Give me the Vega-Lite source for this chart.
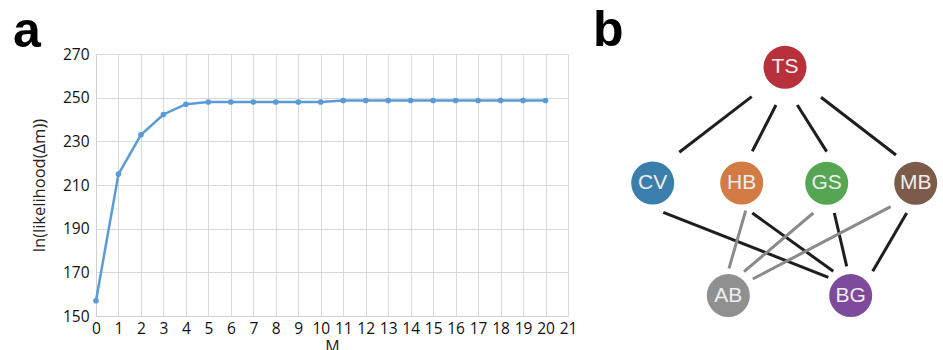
{
  "$schema": "https://vega.github.io/schema/vega-lite/v6.json",
  "background": "white",
  "padding": {"left": 13, "top": 5, "right": 0, "bottom": 0},
  "spacing": 16,
  "config": {
    "view": {"stroke": null},
    "font": "Open Sans",
    "axis": {"labelFont": "Open Sans", "titleFont": "Open Sans", "labelColor": "#111111", "titleColor": "#222222"}
  },
  "hconcat": [
    {
      "width": 472,
      "height": 262,
      "title": {"text": "a", "anchor": "start", "frame": "group", "font": "Liberation Sans", "fontSize": 50, "fontWeight": "bold", "color": "#000000", "dx": -83, "offset": -10},
      "data": {"values": [
        {"M": 0, "L": 157}, {"M": 1, "L": 215}, {"M": 2, "L": 233}, {"M": 3, "L": 242.3},
        {"M": 4, "L": 247}, {"M": 5, "L": 248}, {"M": 6, "L": 248}, {"M": 7, "L": 248},
        {"M": 8, "L": 248}, {"M": 9, "L": 248}, {"M": 10, "L": 248}, {"M": 11, "L": 248.7},
        {"M": 12, "L": 248.7}, {"M": 13, "L": 248.7}, {"M": 14, "L": 248.7}, {"M": 15, "L": 248.7},
        {"M": 16, "L": 248.7}, {"M": 17, "L": 248.7}, {"M": 18, "L": 248.7}, {"M": 19, "L": 248.7},
        {"M": 20, "L": 248.7}
      ]},
      "mark": {"type": "line", "color": "#5b9bd5", "strokeWidth": 2.5, "point": {"filled": true, "size": 32, "color": "#5b9bd5", "opacity": 1}},
      "encoding": {
        "x": {"field": "M", "type": "quantitative", "scale": {"domain": [0, 21], "nice": false},
          "axis": {"values": [0,1,2,3,4,5,6,7,8,9,10,11,12,13,14,15,16,17,18,19,20,21], "grid": true, "gridColor": "#d9d9d9", "gridWidth": 1, "domainColor": "#d0d0d0", "ticks": false, "labelFontSize": 15.5, "labelPadding": 5, "labelFlush": false, "title": "M", "titleFontSize": 16, "titleFontWeight": "normal", "titlePadding": 2}},
        "y": {"field": "L", "type": "quantitative", "scale": {"domain": [150, 270], "nice": false, "zero": false},
          "axis": {"values": [150,170,190,210,230,250,270], "grid": true, "gridColor": "#d9d9d9", "gridWidth": 1, "domainColor": "#d0d0d0", "ticks": false, "labelFontSize": 15.5, "labelPadding": 7, "labelFlush": false, "title": "ln(likelihood(Δm))", "titleFontSize": 16.5, "titleFontWeight": "normal", "titlePadding": 15}}
      }
    },
    {
      "width": 348,
      "height": 262,
      "title": {"text": "b", "anchor": "start", "frame": "group", "font": "Liberation Sans", "fontSize": 50, "fontWeight": "bold", "color": "#000000", "dx": -2, "offset": -10},
      "layer": [
        {
          "data": {"values": [
            {"from": "TS", "to": "CV", "kind": "black", "x1": 84.3, "y1": 98.3, "x2": 156.7, "y2": 42.6},
            {"from": "TS", "to": "HB", "kind": "black", "x1": 157.3, "y1": 97.3, "x2": 181, "y2": 51},
            {"from": "TS", "to": "GS", "kind": "black", "x1": 202.3, "y1": 51, "x2": 231.7, "y2": 97.6},
            {"from": "TS", "to": "MB", "kind": "black", "x1": 226, "y1": 43.3, "x2": 301, "y2": 101},
            {"from": "CV", "to": "BG", "kind": "black", "x1": 68.3, "y1": 158.3, "x2": 233.3, "y2": 223.3},
            {"from": "HB", "to": "AB", "kind": "gray", "x1": 150.7, "y1": 156.6, "x2": 134, "y2": 214.3},
            {"from": "HB", "to": "BG", "kind": "black", "x1": 157.3, "y1": 159, "x2": 238.3, "y2": 217.3},
            {"from": "GS", "to": "AB", "kind": "gray", "x1": 218.3, "y1": 159, "x2": 149, "y2": 217.6},
            {"from": "GS", "to": "BG", "kind": "black", "x1": 239.3, "y1": 159, "x2": 251.7, "y2": 212.3},
            {"from": "MB", "to": "AB", "kind": "gray", "x1": 295.7, "y1": 152.6, "x2": 157.7, "y2": 225},
            {"from": "MB", "to": "BG", "kind": "black", "x1": 311.7, "y1": 159, "x2": 277.7, "y2": 217.3}
          ]},
          "mark": {"type": "rule", "strokeWidth": 3, "strokeCap": "butt"},
          "encoding": {
            "x": {"field": "x1", "type": "quantitative", "scale": {"domain": [0, 348], "nice": false, "zero": false}, "axis": null},
            "y": {"field": "y1", "type": "quantitative", "scale": {"domain": [0, 262], "nice": false, "zero": false, "reverse": true}, "axis": null},
            "x2": {"field": "x2"},
            "y2": {"field": "y2"},
            "stroke": {"field": "kind", "type": "nominal", "scale": {"domain": ["black", "gray"], "range": ["#1e1e1e", "#8a8a8a"]}, "legend": null}
          }
        },
        {
          "data": {"name": "nodes", "values": [
            {"name": "TS", "x": 190, "y": 13.3},
            {"name": "CV", "x": 57.7, "y": 129},
            {"name": "HB", "x": 146.7, "y": 129},
            {"name": "GS", "x": 231.7, "y": 129.3},
            {"name": "MB", "x": 320.7, "y": 129.3},
            {"name": "AB", "x": 133.3, "y": 241.6},
            {"name": "BG", "x": 255.7, "y": 241.6}
          ]},
          "layer": [
            {
              "mark": {"type": "circle", "size": 1850, "opacity": 1},
              "encoding": {
                "x": {"field": "x", "type": "quantitative"},
                "y": {"field": "y", "type": "quantitative"},
                "fill": {"field": "name", "type": "nominal", "scale": {"domain": ["TS", "CV", "HB", "GS", "MB", "AB", "BG"], "range": ["#b8303b", "#3a7fab", "#d27b44", "#55a553", "#7d5b4a", "#8f908f", "#7e4b9c"]}, "legend": null}
              }
            },
            {
              "mark": {"type": "text", "font": "Liberation Sans", "fontSize": 21, "color": "#eeeeee", "baseline": "middle", "align": "center"},
              "encoding": {
                "x": {"field": "x", "type": "quantitative"},
                "y": {"field": "y", "type": "quantitative"},
                "text": {"field": "name"}
              }
            }
          ]
        }
      ]
    }
  ]
}
